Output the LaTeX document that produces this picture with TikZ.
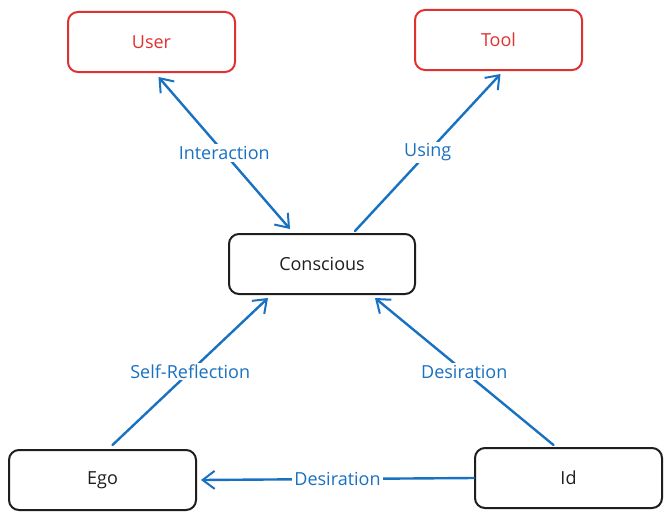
\documentclass[tikz,border=0pt]{standalone}
\usepackage{fontspec}
\setmainfont{Open Sans}
\usetikzlibrary{arrows.meta}
\definecolor{exred}{HTML}{E03131}
\definecolor{exblue}{HTML}{1971C2}
\definecolor{exblack}{HTML}{1E1E1E}
\tikzset{
  box/.style={draw, line width=2pt, rounded corners=10pt, minimum width=#1, minimum height=60pt, inner sep=0pt, font=\fontsize{18}{21}\selectfont},
  redbox/.style={box=167pt, draw=exred, text=exred},
  blackbox/.style={box=#1, draw=exblack, text=exblack},
  barb/.tip={Straight Barb[length=12pt,width=18pt,line width=2pt]},
  conn/.style={draw=exblue, line width=2.4pt, line cap=round, -barb},
  lbl/.style={fill=white, text=exblue, inner sep=2pt, font=\fontsize{18}{21}\selectfont},
}
\begin{document}
\begin{tikzpicture}[x=1pt,y=-1pt]
\fill[white] (0,0) rectangle (671,519);
\useasboundingbox (0,0) rectangle (671,519);
\node[redbox] (user) at (151.5,42) {User};
\node[redbox] (tool) at (498.5,40) {Tool};
\node[blackbox=186pt] (cons) at (322,264) {Conscious};
\node[blackbox=187pt] (ego) at (102.5,480) {Ego};
\node[blackbox=187pt] (id) at (568.5,478) {Id};

\draw[conn, barb-barb]
  ([xshift=-32pt,yshift=4pt]cons.north) -- node[lbl] {Interaction} ([xshift=7pt,yshift=-4pt]user.south);
\draw[conn] ([xshift=33pt,yshift=2pt]cons.north) -- node[lbl] {Using} ([xshift=2pt,yshift=-3pt]tool.south);
\draw[conn] ([xshift=10pt,yshift=4pt]ego.north) -- node[lbl] {Self-Reflection} ([xshift=-54pt,yshift=-3pt]cons.south);
\draw[conn] ([xshift=-15pt,yshift=2pt]id.north) -- node[lbl] {Desiration} ([xshift=53pt,yshift=-3pt]cons.south);
\draw[conn] (id.west) -- node[lbl] {Desiration} ([xshift=4pt]ego.east);
\end{tikzpicture}
\end{document}
